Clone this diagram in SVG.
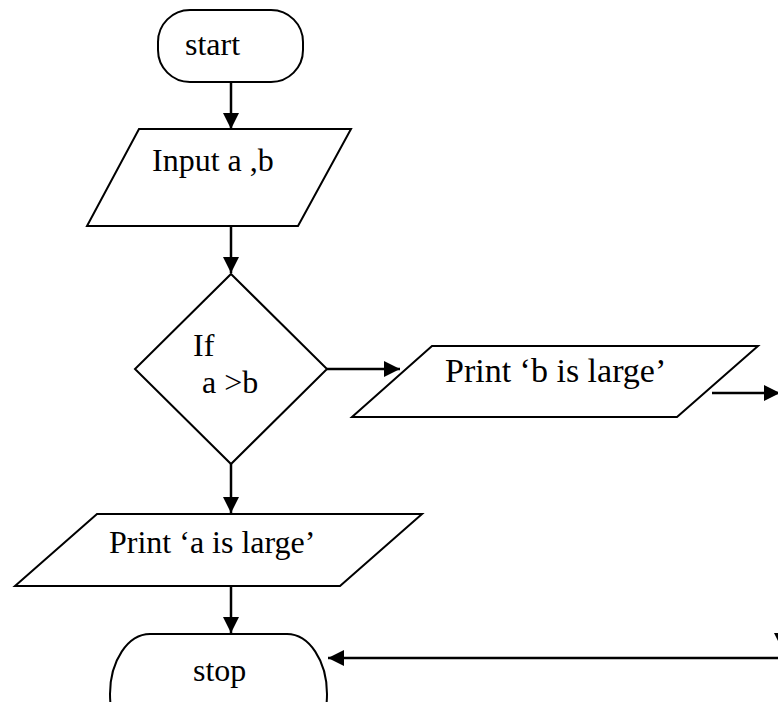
<svg xmlns="http://www.w3.org/2000/svg" width="778" height="702" viewBox="0 0 778 702">
<style>
.shape{fill:#fff;stroke:#000;stroke-width:2}
.lbl{font-family:"Liberation Serif","Times New Roman",serif;font-size:32px;fill:#000}
.conn{stroke:#000;stroke-width:2.5;fill:none}
</style>
<defs>
<marker id="ah" markerWidth="16" markerHeight="16" viewBox="0 0 16 16" refX="16" refY="8" orient="auto" markerUnits="userSpaceOnUse">
<path d="M0,0 L16,8 L0,16 Z" fill="#000"/>
</marker>
</defs>
<rect width="778" height="702" fill="#fff"/>
<g id="connectors">
<line class="conn" x1="231" y1="82" x2="231" y2="129" marker-end="url(#ah)"/>
<line class="conn" x1="231" y1="226" x2="231" y2="273" marker-end="url(#ah)"/>
<line class="conn" x1="231" y1="464" x2="231" y2="513" marker-end="url(#ah)"/>
<line class="conn" x1="231" y1="586" x2="231" y2="633" marker-end="url(#ah)"/>
<line class="conn" x1="327" y1="369" x2="400" y2="369" marker-end="url(#ah)"/>
<line class="conn" x1="712" y1="393" x2="780" y2="393" marker-end="url(#ah)"/>
<line class="conn" x1="790" y1="658" x2="328" y2="658" marker-end="url(#ah)"/>
<line class="conn" x1="782" y1="600" x2="782" y2="649" marker-end="url(#ah)"/>
</g>
<g id="start">
<rect class="shape" x="158" y="10" width="145" height="72" rx="32" ry="32"/>
<text class="lbl" x="185" y="55">start</text>
</g>
<g id="input">
<polygon class="shape" points="139,129 351,129 298,226 87,226"/>
<text class="lbl" x="152" y="171">Input a ,b</text>
</g>
<g id="decision">
<polygon class="shape" points="231,274 327,369 231,464 135,369"/>
<text class="lbl" x="193" y="356">If</text>
<text class="lbl" x="202" y="393">a &gt;b</text>
</g>
<g id="print-b">
<polygon class="shape" points="432,346 758,346 677,417 352,417"/>
<text class="lbl" x="445" y="382" style="font-size:34px">Print ‘b is large’</text>
</g>
<g id="print-a">
<polygon class="shape" points="97,514 422,514 340,586 15,586"/>
<text class="lbl" x="109" y="553">Print ‘a is large’</text>
</g>
<g id="stop">
<rect class="shape" x="110" y="634" width="217" height="120" rx="40" ry="60"/>
<text class="lbl" x="193" y="681">stop</text>
</g>
</svg>
